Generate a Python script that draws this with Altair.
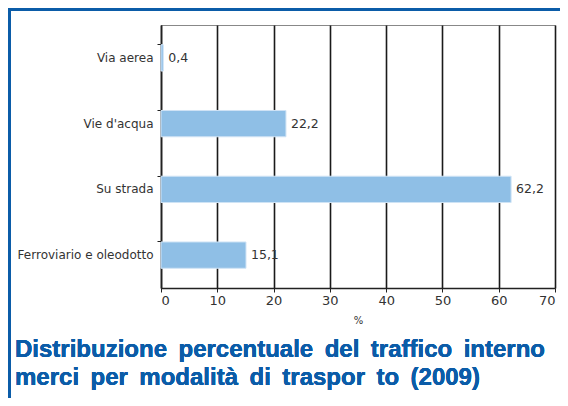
import altair as alt
import pandas as pd

categories = ["Via aerea", "Vie d'acqua", "Su strada", "Ferroviario e oleodotto"]
values = [0.4, 22.2, 62.2, 15.1]
labels = [f"{v:.1f}".replace(".", ",") for v in values]
title_lines = ["Distribuzione percentuale del traffico interno",
               "merci per modalità di traspor to (2009)"]

df = pd.DataFrame({"cat": categories, "val": values, "lab": labels})

BLUE = "#0b5ca8"
FONT = "DejaVu Sans"

y_enc = alt.Y("cat:N", sort=categories, title=None,
              scale=alt.Scale(paddingInner=0.6, paddingOuter=0.3),
              axis=alt.Axis(bandPosition=0, tickSize=4, tickColor="#222",
                            domainColor="#222", domainWidth=1.5,
                            labelFontSize=12, labelColor="#333",
                            labelFont=FONT, labelPadding=4))
x_enc = alt.X("val:Q", title="%",
              scale=alt.Scale(domain=[0, 70], nice=False),
              axis=alt.Axis(values=list(range(0, 80, 10)), grid=True,
                            gridColor="#1a1a1a", gridWidth=1.6,
                            domainColor="#222", domainWidth=1.5,
                            tickSize=4, tickColor="#222",
                            labelFontSize=13, labelColor="#333",
                            labelFont=FONT,
                            titleFontSize=10, titleFontWeight="normal",
                            titleColor="#333", titleFont=FONT,
                            titlePadding=8))

bars = alt.Chart(df).mark_bar(color="#8fbfe6", stroke="#cfe3f5", strokeWidth=1).encode(
    x=x_enc, y=y_enc)

text = alt.Chart(df).mark_text(align="left", dx=5, fontSize=12.5,
                               font=FONT, color="#333").encode(
    x="val:Q", y=alt.Y("cat:N", sort=categories), text="lab:N")

top_line = alt.Chart(df).mark_rule(color=BLUE, strokeWidth=3).encode(
    x=alt.value(-153), x2=alt.value(410), y=alt.value(-15.5))
left_line = alt.Chart(df).mark_rule(color=BLUE, strokeWidth=3).encode(
    x=alt.value(-151.5), y=alt.value(-15.5), y2=alt.value(400))

def spaced(s):
    return s.replace(" ", " \u2009")

t1 = alt.Chart(df).mark_text(align="left", baseline="alphabetic", fontSize=24,
                             fontWeight="bold", font="Liberation Sans Narrow, Liberation Sans",
                             color=BLUE).encode(
    x=alt.value(-146), y=alt.value(332), text=alt.value(spaced(title_lines[0])))
t2 = alt.Chart(df).mark_text(align="left", baseline="alphabetic", fontSize=24,
                             fontWeight="bold", font="Liberation Sans Narrow, Liberation Sans",
                             color=BLUE).encode(
    x=alt.value(-146), y=alt.value(360), text=alt.value(spaced(title_lines[1])))

chart = alt.layer(bars, text, top_line, left_line, t1, t2).properties(
    width=394, height=263,
    padding={"left": 153, "top": 17, "right": 5, "bottom": 110},
    autosize=alt.AutoSizeParams(type="none"),
).configure_view(stroke="#888", strokeWidth=1)

chart.save("out.html", embed_options={"renderer": "svg", "actions": False})
